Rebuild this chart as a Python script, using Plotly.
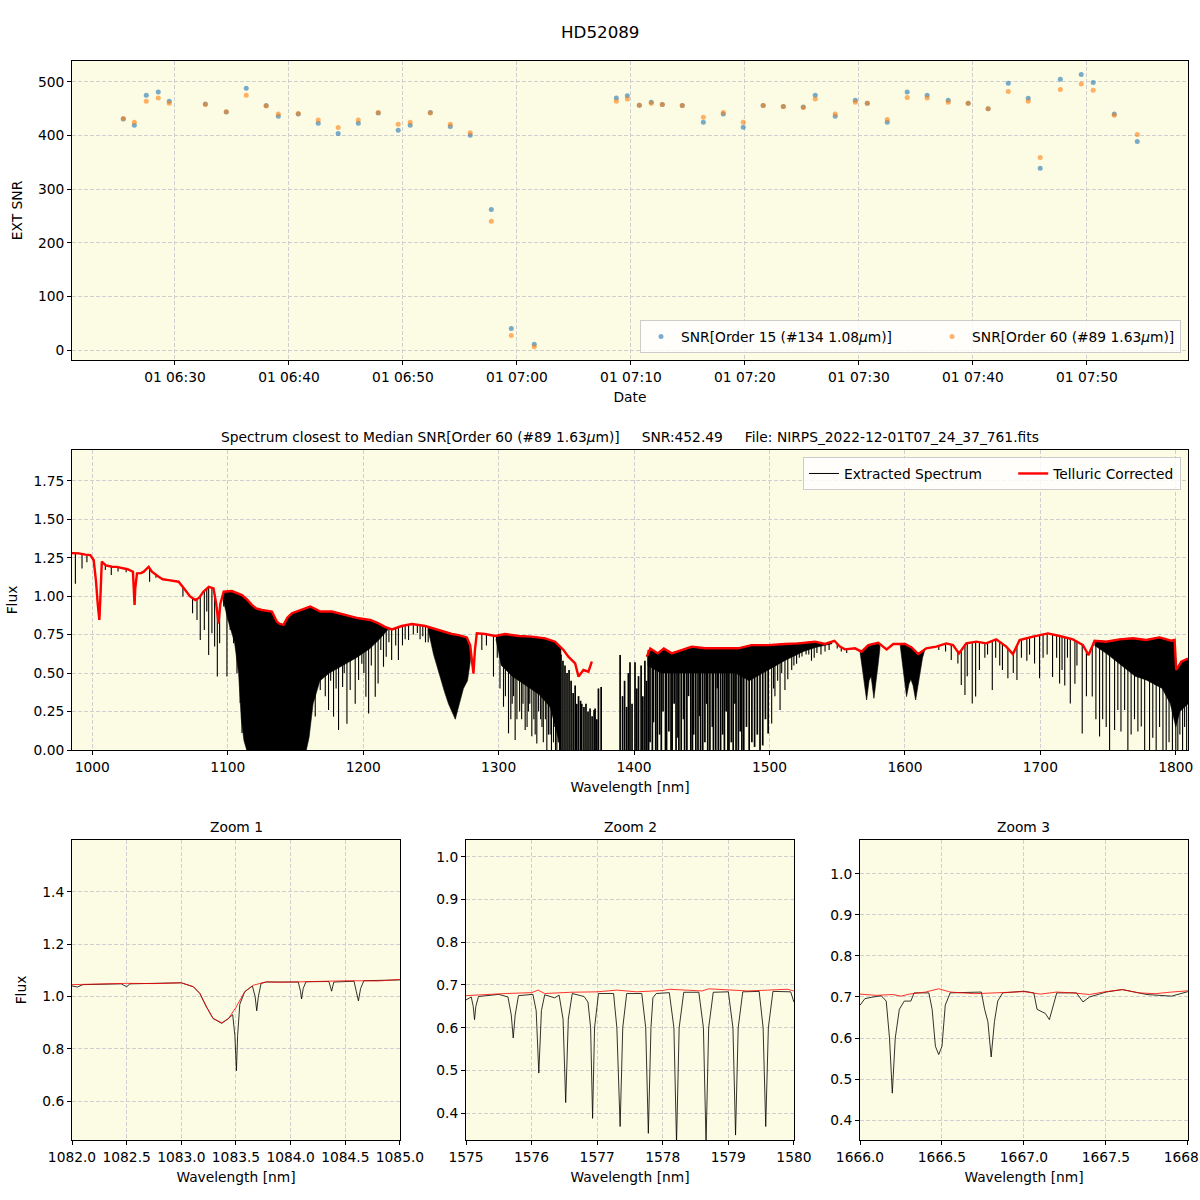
import numpy as np
import plotly.graph_objects as go

# ---------------- top panel: SNR vs time ----------------
obs_time = ["06:25:28", "06:26:26", "06:27:29", "06:28:32", "06:29:30", "06:32:40", "06:34:30",
            "06:36:15", "06:38:00", "06:39:04", "06:40:49", "06:42:34", "06:44:19", "06:46:05",
            "06:47:50", "06:49:35", "06:50:38", "06:52:24", "06:54:09", "06:55:54", "06:57:45",
            "06:59:30", "07:01:31", "07:08:43", "07:09:41", "07:10:44", "07:11:47", "07:12:45",
            "07:14:30", "07:16:21", "07:18:06", "07:19:51", "07:21:36", "07:23:22", "07:25:07",
            "07:26:10", "07:27:55", "07:29:41", "07:30:44", "07:32:29", "07:34:14", "07:35:59",
            "07:37:50", "07:39:35", "07:41:20", "07:43:06", "07:44:51", "07:45:54", "07:47:40",
            "07:49:30", "07:50:33", "07:52:24", "07:54:25"]
snr_order15 = [431, 419, 475, 481, 464, 459, 444, 488, 456, 436, 440, 423, 404, 423, 442, 410, 419,
               443, 417, 400.5, 262, 40, 11, 470, 474, 456.5, 462, 458, 456, 425, 440, 415.5, 456,
               454, 453, 475, 436, 466, 460, 425, 481, 475, 466, 460, 450, 497.5, 469.5, 339, 505,
               514, 499, 440, 389]
snr_order60 = [432, 425, 464, 470, 460, 458, 444.5, 475, 455, 440, 441, 429, 415, 429, 443, 421, 425,
               442, 421, 405, 240, 27, 6, 464, 468, 456.5, 460, 458, 456, 434, 443, 425, 456, 454,
               452.5, 468, 440, 462, 460, 430, 471, 470, 462, 460, 450, 482, 464, 359, 486, 496,
               484.5, 438, 402]
obs_dates = ["2022-12-01 " + t for t in obs_time]

# ---------------- middle panel: full spectrum ----------------
# telluric-corrected continuum (red), None marks the gap without data
cont_wl = [985, 990, 995, 998.5, 1001, 1002.7, 1004, 1005.2, 1006, 1007, 1010, 1014.5, 1018, 1022,
           1026, 1030, 1030.8, 1031.2, 1031.7, 1033, 1036, 1038, 1041.6, 1044, 1049, 1052, 1056.3,
           1060, 1063.7, 1068.6, 1072, 1076, 1079, 1082, 1086, 1089.5, 1091.5, 1093.2, 1094.5, 1097,
           1103, 1110.5, 1114, 1117.8, 1121, 1125.2, 1129, 1132.6, 1136.3, 1138.5, 1141.2, 1144,
           1147.4, 1154.7, 1160.9, 1164, 1168.3, 1176.9, 1186.7, 1196.6, 1205.2, 1211.3, 1216,
           1221.2, 1228.5, 1236, 1245.8, 1255.6, 1265.4, 1270.4, 1276.5, 1279, 1280.2, 1281.4,
           1282.5, 1283.9, 1290, 1297.4, 1304.8, 1314.6, 1324.5, 1334.3, 1341.7, 1347.9, 1351.5,
           1356.5, 1359, 1362.6, 1366.3, 1368.8, 1389, 1409.4, 1412, 1417.5, 1422, 1427.8, 1435.2,
           1442.6, 1452.4, 1464.7, 1477, 1486.8, 1499.1, 1511.4, 1521.3, 1533.6, 1541, 1547.9, 1552,
           1555.7, 1563.1, 1568, 1573, 1580.3, 1586.5, 1591.4, 1600, 1604.9, 1609.8, 1615.8, 1623.2,
           1630.5, 1635.5, 1639.9, 1645.3, 1652.7, 1660, 1667.4, 1674.8, 1679.7, 1684.7, 1694.5,
           1705.6, 1714.2, 1724, 1731.4, 1735.6, 1740, 1748.6, 1758.5, 1768.3, 1778.1, 1788, 1796.6,
           1799.1, 1800.3, 1804, 1809]
cont_flux = [1.28, 1.278, 1.27, 1.267, 1.235, 1.10, 0.95, 0.845, 1.0, 1.224, 1.2, 1.191, 1.19, 1.18,
             1.175, 1.159, 1.05, 0.943, 1.05, 1.148, 1.15, 1.159, 1.191, 1.159, 1.126, 1.11, 1.104,
             1.1, 1.094, 1.04, 1.0, 0.975, 0.99, 1.029, 1.061, 1.05, 0.95, 0.824, 0.95, 1.029, 1.033,
             1.007, 0.98, 0.943, 0.92, 0.91, 0.905, 0.9, 0.834, 0.82, 0.813, 0.86, 0.889, 0.91,
             0.932, 0.92, 0.9, 0.9, 0.878, 0.856, 0.845, 0.823, 0.8, 0.784, 0.806, 0.819, 0.806, 0.78,
             0.754, 0.747, 0.732, 0.68, 0.563, 0.498, 0.65, 0.758, 0.754, 0.741, 0.754, 0.741, 0.737,
             0.726, 0.704, 0.65, 0.607, 0.563, 0.477, 0.52, 0.509, 0.574, None, 0.607, 0.66, 0.628,
             0.66, 0.628, 0.65, 0.672, 0.661, 0.661, 0.661, 0.682, 0.682, 0.689, 0.693, 0.704, 0.689,
             0.71, 0.672, 0.654, 0.661, 0.639, 0.682, 0.697, 0.654, 0.689, 0.689, 0.667, 0.624,
             0.661, 0.672, 0.693, 0.682, 0.628, 0.693, 0.704, 0.693, 0.719, 0.672, 0.624, 0.715,
             0.737, 0.758, 0.741, 0.719, 0.682, 0.617, 0.71, 0.704, 0.719, 0.726, 0.715, 0.732, 0.71,
             0.715, 0.52, 0.574, 0.595]

# absorption lines in the extracted spectrum: centre and minimum flux
line_wl = [987.5, 992.4, 996, 1009.6, 1014, 1019, 1025, 1042.3, 1047, 1066.9, 1074, 1077.3, 1079.7,
           1082.7, 1084.5, 1085.9, 1088.3, 1090.3, 1092.3, 1094, 1097, 1099.4, 1101.8, 1104.3,
           1106.8, 1109.2, 1110.5,
           1164.6, 1166, 1168.3, 1170, 1172, 1174.4, 1176, 1178.1, 1180, 1181.8, 1183, 1184.8, 1186,
           1188, 1190.4, 1192, 1194.1, 1196.6, 1198, 1199, 1200.5, 1202, 1204, 1206, 1208.9, 1211,
           1213, 1215, 1217, 1219, 1221, 1224, 1226, 1229, 1231, 1233.5, 1237, 1240, 1242, 1244,
           1246, 1248,
           1287.6, 1291, 1296.2, 1299,
           1301, 1303.6, 1305, 1307.3, 1309, 1310, 1311, 1312.2, 1313.5, 1315.5, 1317, 1318, 1319.6,
           1321, 1322, 1323, 1324.5, 1326, 1327, 1328.2, 1329.5, 1331, 1332, 1333, 1334.5, 1335.6,
           1336.8, 1338, 1339, 1340.5, 1341.5, 1342, 1343, 1344, 1345,
           1501.6, 1503, 1504, 1506, 1507.8, 1509, 1511.4, 1513.5, 1516.4, 1518, 1520, 1522, 1524,
           1527, 1529, 1531, 1533, 1535, 1538, 1541, 1544, 1550, 1553, 1557,
           1625, 1630, 1634.2, 1639.1, 1641.6, 1644.3, 1646, 1649.7, 1652.2, 1655, 1659, 1661,
           1664.5, 1667, 1670, 1672, 1676, 1680, 1682.7, 1686, 1690, 1692, 1695.7, 1699.4, 1702,
           1705, 1709, 1712, 1714.2, 1716, 1718, 1720, 1722.1, 1725.5, 1727,
           1730.9, 1734, 1738.3, 1741, 1743.7, 1746, 1748.6, 1751.1, 1754.8, 1757.2, 1759.5, 1762.2,
           1764.6, 1767, 1769.5, 1772, 1774.5, 1777, 1780.6, 1783, 1785.5, 1788, 1790.5, 1792.9,
           1795, 1797.5, 1800, 1801.5, 1803, 1805, 1806.5, 1808]
line_min = [1.08, 1.18, 1.22, 1.17, 1.137, 1.16, 1.155, 1.094, 1.12, 0.997, 0.889, 0.845, 0.715,
            0.78, 0.9, 0.618, 0.759, 0.672, 0.477, 0.694, 0.932, 0.477, 0.78, 0.694, 0.499, 0.306,
            0.111,
            0.217, 0.5, 0.39, 0.55, 0.35, 0.26, 0.45, 0.217, 0.4, 0.13, 0.55, 0.41, 0.5, 0.17,
            0.39, 0.6, 0.3, 0.455, 0.62, 0.56, 0.5, 0.346, 0.238, 0.55, 0.346, 0.433, 0.65, 0.541,
            0.606, 0.7, 0.585, 0.68, 0.585, 0.68, 0.72, 0.715, 0.75, 0.76, 0.72, 0.74, 0.7, 0.7,
            0.65, 0.68, 0.477, 0.6,
            0.4, 0.281, 0.35, 0.108, 0.2, 0.3, 0.35, 0.065, 0.2, 0.25, 0.2, 0.3, 0.13, 0.15, 0.25,
            0.3, 0.09, 0.2, 0.1, 0.043, 0.25, 0.2, 0.15, 0.05, 0.2, 0.0, 0.1, 0.1, 0.0, 0.05, 0.15,
            0.0, 0.0, 0.05, 0.0,
            0.173, 0.4, 0.35, 0.45, 0.26, 0.5, 0.39, 0.46, 0.52, 0.55, 0.56, 0.6, 0.607, 0.62, 0.62,
            0.58, 0.6, 0.63, 0.62, 0.64, 0.65, 0.66, 0.64, 0.63,
            0.65, 0.64, 0.585, 0.563, 0.422, 0.357, 0.48, 0.303, 0.347, 0.52, 0.6, 0.62, 0.39, 0.6,
            0.55, 0.52, 0.466, 0.5, 0.455, 0.6, 0.58, 0.62, 0.563, 0.466, 0.6, 0.62, 0.475, 0.6,
            0.433, 0.52, 0.42, 0.6, 0.303, 0.43, 0.55,
            0.108, 0.35, 0.347, 0.2, 0.087, 0.2, 0.15, 0.0, 0.13, 0.26, 0.12, 0.26, 0.0, 0.1, 0.2,
            0.12, 0.152, 0.0, 0.0, 0.08, 0.0, 0.15, 0.0, 0.0, 0.05, 0.0, 0.0, 0.0, 0.1, 0.0, 0.15,
            0.0]

# saturated water band 1410-1500 nm: densely packed lines (centre, minimum flux)
dense_wl = [1410.6, 1411.8, 1413.5, 1414.3, 1416, 1417.2, 1418.9, 1420.1, 1421.4, 1423.2, 1424.0,
            1425.7, 1427.3, 1428.1, 1429.6, 1431.0, 1432.4, 1433.1, 1434.8, 1436.5, 1437.3, 1439.0,
            1440.2, 1441.9, 1443.1, 1444.0, 1445.6, 1447.2, 1448.4, 1449.1, 1450.7, 1452.3, 1453.6,
            1454.4, 1456.0, 1457.8, 1458.6, 1460.3, 1461.5, 1462.2, 1463.9, 1465.4, 1466.7, 1468.0,
            1469.3, 1470.1, 1471.8, 1473.2, 1474.5, 1475.3, 1477.0, 1478.4, 1479.6,
            1481, 1483, 1485, 1487, 1489, 1491, 1493, 1495, 1497, 1499]
dense_min = [0.0, 0.05, 0.0, 0.18, 0.0, 0.0, 0.1, 0.0, 0.25, 0.0, 0.0, 0.12, 0.0, 0.0, 0.3, 0.0,
             0.08, 0.0, 0.0, 0.2, 0.0, 0.0, 0.35, 0.0, 0.0, 0.1, 0.0, 0.0, 0.22, 0.0, 0.0, 0.05,
             0.3, 0.0, 0.0, 0.15, 0.0, 0.0, 0.4, 0.0, 0.0, 0.1, 0.0, 0.25, 0.0, 0.0, 0.05, 0.0, 0.3,
             0.0, 0.0, 0.12, 0.0,
             0.0, 0.15, 0.0, 0.05, 0.02, 0.1, 0.0, 0.03, 0.2, 0.108]

# isolated flux spikes where no continuum is left (rising from 0 to the given top)
spike_wl = [1346, 1347.5, 1349, 1350.5, 1352, 1353.5, 1355, 1356.5, 1357.7, 1359, 1360.5, 1361.4,
            1363, 1364.5, 1366, 1367.5, 1369, 1370.5, 1371.2, 1372.5, 1373.7, 1375.7, 1389.7,
            1391.5, 1393, 1394.5, 1395.8, 1397, 1398.5, 1400.7, 1402, 1403.3, 1405.2, 1406.5, 1408,
            1409.2, 1410.6]
spike_top = [0.62, 0.58, 0.55, 0.5, 0.52, 0.45, 0.37, 0.42, 0.3, 0.35, 0.32, 0.3, 0.28, 0.3, 0.25,
             0.27, 0.22, 0.26, 0.27, 0.2, 0.4, 0.41, 0.617, 0.35, 0.45, 0.28, 0.5, 0.57, 0.3, 0.57,
             0.4, 0.48, 0.55, 0.35, 0.58, 0.45, 0.65]

# dense telluric bands: lower envelope of the saturated black region
band1_wl = [1096, 1100, 1105, 1108, 1110, 1112, 1114, 1158, 1160, 1163, 1168, 1175, 1185, 1195,
            1205, 1212, 1218]
band1_low = [1.0, 0.85, 0.7, 0.5, 0.2, 0.06, 0.0, 0.0, 0.08, 0.3, 0.45, 0.5, 0.55, 0.6, 0.66, 0.72,
             0.78]
band2_wl = [1248, 1252, 1256, 1260, 1263, 1266, 1268, 1271, 1274, 1277, 1279.5]
band2_low = [0.78, 0.62, 0.5, 0.38, 0.3, 0.24, 0.2, 0.3, 0.4, 0.45, 0.6]
band3_wl = [1298, 1302, 1310, 1320, 1330, 1338, 1343, 1346]
band3_low = [0.72, 0.55, 0.48, 0.42, 0.36, 0.28, 0.12, 0.0]
band4_wl = [1410, 1420, 1440, 1460, 1475, 1485, 1495, 1505, 1515, 1525, 1535, 1546]
band4_low = [0.55, 0.5, 0.5, 0.5, 0.5, 0.45, 0.5, 0.55, 0.6, 0.64, 0.67, 0.69]
band5_wl = [1566.8, 1569, 1571.7, 1573.5, 1575, 1577.1, 1579.5, 1581.5]
band5_low = [0.64, 0.5, 0.325, 0.45, 0.48, 0.336, 0.5, 0.66]
band6_wl = [1596.5, 1599, 1601.2, 1603, 1604.4, 1606, 1607.9, 1610, 1613, 1615]
band6_low = [0.68, 0.5, 0.347, 0.43, 0.46, 0.42, 0.325, 0.45, 0.6, 0.66]
band7_wl = [1740, 1750, 1760, 1770, 1780, 1790, 1796, 1800, 1803, 1809]
band7_low = [0.68, 0.62, 0.55, 0.48, 0.45, 0.4, 0.3, 0.15, 0.25, 0.3]

# ---------------- zoom panels ----------------
z1_red_wl = [1082.0, 1082.25, 1082.5, 1082.75, 1083.0, 1083.11, 1083.17, 1083.23, 1083.29, 1083.37,
             1083.43, 1083.5, 1083.58, 1083.66, 1083.78, 1083.9, 1084.08, 1084.3, 1084.54, 1084.8,
             1085.0]
z1_red_flux = [1.045, 1.047, 1.05, 1.049, 1.052, 1.037, 1.011, 0.96, 0.916, 0.899, 0.915, 0.958,
               1.018, 1.043, 1.056, 1.054, 1.056, 1.058, 1.06, 1.059, 1.065]
z1_blk_wl = [1082.0, 1082.05, 1082.1, 1082.45, 1082.5, 1082.53, 1083.0, 1083.11, 1083.17, 1083.23,
             1083.29, 1083.37, 1083.43, 1083.47, 1083.49, 1083.504, 1083.515, 1083.535, 1083.58,
             1083.65, 1083.675, 1083.69, 1083.705, 1083.73, 1083.78, 1084.07, 1084.09, 1084.1,
             1084.115, 1084.14, 1084.35, 1084.375, 1084.395, 1084.58, 1084.6, 1084.62, 1084.64,
             1084.67, 1085.0]
z1_blk_flux = [1.04, 1.036, 1.045, 1.048, 1.037, 1.048, 1.052, 1.037, 1.011, 0.96, 0.916, 0.897,
               0.915, 0.93, 0.85, 0.716, 0.85, 0.97, 1.018, 1.04, 1.0, 0.945, 1.0, 1.05, 1.055,
               1.055, 1.02, 0.99, 1.03, 1.056, 1.057, 1.02, 1.055, 1.058, 1.02, 0.983, 1.03, 1.06,
               1.063]

z2_red_wl = [1575.0, 1575.3, 1575.6, 1576.0, 1576.1, 1576.2, 1576.6, 1577.0, 1577.3, 1577.6, 1578.0,
             1578.1, 1578.3, 1578.6, 1578.7, 1579.0, 1579.3, 1579.6, 1579.9, 1580.0]
z2_red_flux = [0.675, 0.678, 0.68, 0.682, 0.688, 0.68, 0.683, 0.684, 0.688, 0.684, 0.687, 0.69,
               0.688, 0.686, 0.691, 0.688, 0.686, 0.688, 0.69, 0.686]
z2_blk_wl = [1575.0, 1575.08, 1575.11, 1575.13, 1575.15, 1575.19, 1575.5, 1575.64, 1575.69, 1575.72,
             1575.75, 1575.8, 1576.02, 1576.07, 1576.11, 1576.15, 1576.2, 1576.35, 1576.42, 1576.48,
             1576.52, 1576.56, 1576.62, 1576.8, 1576.86, 1576.9, 1576.93, 1576.96, 1577.02, 1577.25,
             1577.3, 1577.35, 1577.39, 1577.45, 1577.68, 1577.74, 1577.78, 1577.82, 1577.85,
             1577.9, 1578.1, 1578.17, 1578.21, 1578.25, 1578.32, 1578.55, 1578.62, 1578.66,
             1578.7, 1578.77, 1579.0, 1579.07, 1579.11, 1579.15, 1579.22, 1579.47, 1579.53,
             1579.57, 1579.61, 1579.68, 1579.95, 1580.0]
z2_blk_flux = [0.665, 0.672, 0.65, 0.619, 0.65, 0.673, 0.678, 0.672, 0.63, 0.576, 0.63, 0.675,
               0.678, 0.64, 0.494, 0.64, 0.677, 0.67, 0.676, 0.62, 0.425, 0.62, 0.68, 0.673, 0.66,
               0.6, 0.388, 0.6, 0.68, 0.68, 0.6, 0.369, 0.6, 0.68, 0.68, 0.6, 0.353, 0.6, 0.67, 0.68,
               0.682, 0.6, 0.33, 0.6, 0.683, 0.683, 0.6, 0.33, 0.6, 0.683, 0.684, 0.6, 0.349, 0.6,
               0.684, 0.685, 0.6, 0.369, 0.6, 0.685, 0.684, 0.66]

z3_red_wl = [1666.0, 1666.1, 1666.2, 1666.25, 1666.3, 1666.4, 1666.48, 1666.55, 1666.7, 1666.8,
             1667.0, 1667.1, 1667.2, 1667.3, 1667.4, 1667.5, 1667.6, 1667.7, 1667.8, 1667.9, 1668.0]
z3_red_flux = [0.707, 0.704, 0.706, 0.702, 0.707, 0.712, 0.72, 0.712, 0.708, 0.71, 0.713, 0.707,
               0.712, 0.71, 0.706, 0.713, 0.718, 0.71, 0.708, 0.712, 0.715]
z3_blk_wl = [1666.0, 1666.03, 1666.08, 1666.13, 1666.16, 1666.18, 1666.197, 1666.215, 1666.24,
             1666.27, 1666.31, 1666.33, 1666.42, 1666.44, 1666.46, 1666.48, 1666.5, 1666.52,
             1666.55, 1666.74, 1666.76, 1666.78, 1666.8, 1666.82, 1666.84, 1666.87, 1667.0,
             1667.06, 1667.08, 1667.11, 1667.13, 1667.155, 1667.18, 1667.2, 1667.32, 1667.36,
             1667.4, 1667.5, 1667.6, 1667.75, 1667.9, 1668.0]
z3_blk_flux = [0.68, 0.696, 0.7, 0.703, 0.69, 0.6, 0.466, 0.6, 0.67, 0.69, 0.69, 0.71, 0.71, 0.67,
               0.58, 0.56, 0.58, 0.68, 0.71, 0.712, 0.67, 0.64, 0.554, 0.64, 0.69, 0.71, 0.714, 0.71,
               0.67, 0.665, 0.66, 0.645, 0.68, 0.71, 0.71, 0.688, 0.7, 0.712, 0.718, 0.706, 0.702,
               0.713]

# ---------------- build figure ----------------
FONT = "DejaVu Sans"
FS = 13.8
BG = "#fcfbe3"
GRID = "#cfcfcf"
NB = "\u00a0"

# pixel geometry helpers (figure 1200x1200, plot area 72..1188 x 61..1140)
ML, MR, MT, MB = 72, 12, 61, 60
PW, PH = 1200 - ML - MR, 1200 - MT - MB


def px(x):
    return (x - ML) / PW


def py(y):
    return (1200 - MB - y) / PH


fig = go.Figure()

fig.add_trace(go.Scatter(x=obs_dates, y=snr_order15, mode="markers", xaxis="x", yaxis="y",
                         marker=dict(color="#1f77b4", size=5, opacity=0.6),
                         name="SNR[Order 15 (#134 1.08<i>μ</i>m)]" + NB * 8, legend="legend"))
fig.add_trace(go.Scatter(x=obs_dates, y=snr_order60, mode="markers", xaxis="x", yaxis="y",
                         marker=dict(color="#ff7f0e", size=5, opacity=0.6),
                         name="SNR[Order 60 (#89 1.63<i>μ</i>m)]", legend="legend"))

cw = np.array([w for w, f in zip(cont_wl, cont_flux) if f is not None])
cf = np.array([f for f in cont_flux if f is not None])

bands = [(band1_wl, band1_low), (band2_wl, band2_low), (band3_wl, band3_low),
         (band4_wl, band4_low), (band5_wl, band5_low), (band6_wl, band6_low),
         (band7_wl, band7_low)]
for bw, bl in bands:
    inside = cw[(cw > bw[0]) & (cw < bw[-1])]
    xs = np.unique(np.concatenate([np.array(bw, float), inside]))
    up = np.interp(xs, cw, cf)
    lo = np.interp(xs, bw, bl)
    fig.add_trace(go.Scatter(x=np.concatenate([xs, xs[::-1]]), y=np.concatenate([up, lo[::-1]]),
                             mode="lines", fill="toself", fillcolor="black",
                             line=dict(color="black", width=0.6), xaxis="x2", yaxis="y2",
                             showlegend=False, hoverinfo="skip"))


def strokes(wls, lows, highs):
    xs, ys = [], []
    for w, lo, hi in zip(wls, lows, highs):
        xs += [w, w, None]
        ys += [hi, lo, None]
    return xs, ys


# absorption lines as vertical strokes from continuum to minimum
lx, ly = strokes(line_wl, line_min, np.interp(line_wl, cw, cf))
fig.add_trace(go.Scatter(x=lx, y=ly, mode="lines", line=dict(color="black", width=1.1),
                         xaxis="x2", yaxis="y2", showlegend=False, hoverinfo="skip"))
dx, dy = strokes(dense_wl, dense_min, np.interp(dense_wl, cw, cf))
sx, sy = strokes(spike_wl, [0.0] * len(spike_wl), spike_top)
fig.add_trace(go.Scatter(x=dx + sx, y=dy + sy, mode="lines", line=dict(color="black", width=1.7),
                         xaxis="x2", yaxis="y2", showlegend=False, hoverinfo="skip"))

fig.add_trace(go.Scatter(x=cont_wl, y=cont_flux, mode="lines", connectgaps=False,
                         line=dict(color="black", width=1.0), xaxis="x2", yaxis="y2",
                         name="Extracted Spectrum" + NB * 6, legend="legend2"))
fig.add_trace(go.Scatter(x=cont_wl, y=cont_flux, mode="lines", connectgaps=False,
                         line=dict(color="red", width=2.4), xaxis="x2", yaxis="y2",
                         name="Telluric Corrected", legend="legend2"))

zooms = [("x3", "y3", z1_blk_wl, z1_blk_flux, z1_red_wl, z1_red_flux),
         ("x4", "y4", z2_blk_wl, z2_blk_flux, z2_red_wl, z2_red_flux),
         ("x5", "y5", z3_blk_wl, z3_blk_flux, z3_red_wl, z3_red_flux)]
for xa, ya, bw, bf, rw, rf in zooms:
    fig.add_trace(go.Scatter(x=bw, y=bf, mode="lines", line=dict(color="black", width=0.8),
                             xaxis=xa, yaxis=ya, showlegend=False))
    fig.add_trace(go.Scatter(x=rw, y=rf, mode="lines", line=dict(color="red", width=0.8),
                             xaxis=xa, yaxis=ya, showlegend=False))


def ax(**kw):
    base = dict(showline=True, linecolor="black", linewidth=1, mirror=True, ticks="outside",
                ticklen=4, tickwidth=1, tickcolor="black", showgrid=True, gridcolor=GRID,
                griddash="4px,2px", gridwidth=0.8, zeroline=False, automargin=False,
                ticklabeloverflow="allow",
                tickfont=dict(family=FONT, size=FS, color="black"),
                title_font=dict(family=FONT, size=FS, color="black"))
    base.update(kw)
    return base


def title_ann(text, x, y, size=FS):
    return dict(text=text, x=px(x), y=py(y), xref="paper", yref="paper", showarrow=False,
                xanchor="center", yanchor="middle", font=dict(family=FONT, size=size))


fig.update_layout(
    width=1200, height=1200,
    margin=dict(l=ML, r=MR, t=MT, b=MB, autoexpand=False),
    paper_bgcolor="white", plot_bgcolor=BG,
    font=dict(family=FONT, size=FS, color="black"),
    xaxis=ax(domain=[0, 1], anchor="y", type="date",
             range=["2022-12-01 06:20:58", "2022-12-01 07:58:52"],
             tick0="2022-12-01 06:30:00", dtick=600000, tickformat="%d %H:%M",
             title=dict(text="Date", standoff=8)),
    yaxis=ax(domain=[py(360), py(61)], anchor="x", range=[-18.6, 539], dtick=100,
             title=dict(text="EXT SNR", standoff=12)),
    xaxis2=ax(domain=[0, 1], anchor="y2", range=[985, 1809], dtick=100,
              title=dict(text="Wavelength [nm]", standoff=8)),
    yaxis2=ax(domain=[py(750), py(450)], anchor="x2", range=[0, 1.95], dtick=0.25,
              tickformat=".2f", title=dict(text="Flux", standoff=12)),
    xaxis3=ax(domain=[px(72), px(400)], anchor="y3", range=[1082, 1085.0005], dtick=0.5,
              tickformat=".1f", title=dict(text="Wavelength [nm]", standoff=8)),
    yaxis3=ax(domain=[py(1140), py(840)], anchor="x3", range=[0.451, 1.598], dtick=0.2,
              tickformat=".1f", title=dict(text="Flux", standoff=12)),
    xaxis4=ax(domain=[px(466), px(794)], anchor="y4", range=[1575, 1580.001], dtick=1,
              title=dict(text="Wavelength [nm]", standoff=8)),
    yaxis4=ax(domain=[py(1140), py(840)], anchor="x4", range=[0.3375, 1.039], dtick=0.1,
              tickformat=".1f"),
    xaxis5=ax(domain=[px(860), px(1188)], anchor="y5", range=[1666, 1668.0005], dtick=0.5,
              tickformat=".1f", title=dict(text="Wavelength [nm]", standoff=8)),
    yaxis5=ax(domain=[py(1140), py(840)], anchor="x5", range=[0.352, 1.082], dtick=0.1,
              tickformat=".1f"),
    legend=dict(orientation="h", x=px(1181), xanchor="right", y=py(353), yanchor="bottom",
                bgcolor="rgba(255,255,255,0.8)", bordercolor="#cccccc", borderwidth=1,
                font=dict(family=FONT, size=FS)),
    legend2=dict(orientation="h", x=px(1181), xanchor="right", y=py(457), yanchor="top",
                 bgcolor="rgba(255,255,255,0.8)", bordercolor="#cccccc", borderwidth=1,
                 font=dict(family=FONT, size=FS)),
    annotations=[
        title_ann("HD52089", 600, 32, 16.7),
        title_ann("Spectrum closest to Median SNR[Order 60 (#89 1.63<i>μ</i>m)]     SNR:452.49     "
                  "File: NIRPS_2022-12-01T07_24_37_761.fits", 630, 437),
        title_ann("Zoom 1", 236, 827),
        title_ann("Zoom 2", 630, 827),
        title_ann("Zoom 3", 1024, 827),
    ],
)

fig.write_html("out.html")
